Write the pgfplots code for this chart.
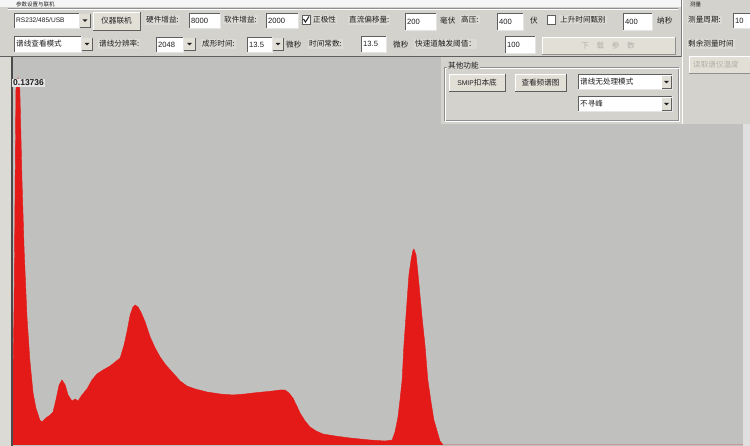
\documentclass[border=0pt]{standalone}
\usepackage{pgfplots}
\pgfplotsset{compat=1.18}
\usepackage{fontspec}
\setmainfont{Noto Sans CJK SC}
\newfontfamily\lib{Liberation Sans}
\definecolor{uibg}{RGB}{212,210,205}
\definecolor{plotbg}{RGB}{192,192,190}
\definecolor{plotred}{RGB}{228,26,24}
\definecolor{dk}{RGB}{95,95,95}
\definecolor{txt}{RGB}{30,30,30}
\definecolor{dis}{RGB}{178,175,168}
\definecolor{lblbg}{RGB}{220,218,213}
\definecolor{btnbg}{RGB}{226,223,215}
\newcommand{\ui}{\fontsize{7.6}{8}\selectfont\color{txt}}
\newcommand{\tb}[5]{%
  \fill[white] (#1,#2) rectangle (#3,#4);
  \draw[dk,line width=0.8pt] (#1,#4) -- (#1,#2) -- (#3,#2);
  \draw[white!90!black,line width=0.8pt] (#1,#4) -- (#3,#4) -- (#3,#2);
  \node[anchor=west,inner sep=0pt,font=\ui] at ({#1+2},{(#2+#4)/2}) {#5};}
\newcommand{\btn}[5]{%
  \fill[btnbg] (#1,#2) rectangle (#3,#4);
  \draw[white,line width=0.8pt] (#1,#4) -- (#1,#2) -- (#3,#2);
  \draw[dk,line width=0.8pt] (#1,#4) -- (#3,#4) -- (#3,#2);
  \node[inner sep=0pt,font=\ui] at ({(#1+#3)/2},{(#2+#4)/2}) {#5};}
\newcommand{\dd}[4]{%
  \fill[btnbg] (#1,#2) rectangle (#3,#4);
  \draw[dk,line width=0.6pt] (#1,#4) -- (#3,#4) -- (#3,#2);
  \fill[txt] ({(#1+#3)/2-2.5},{(#2+#4)/2-1}) -- ++(5,0) -- ++(-2.5,2.5) -- cycle;}
\newcommand{\lbl}[3]{\node[anchor=west,inner sep=1pt,font=\ui,fill=lblbg] at (#1,#2) {#3};}
\begin{document}
\begin{tikzpicture}
\useasboundingbox (0pt,0pt) rectangle (750pt,446pt);
\clip (0pt,0pt) rectangle (750pt,446pt);
\begin{scope}[x=1pt,y=-1pt,shift={(0pt,446pt)}]
  \fill[uibg] (0,0) rectangle (750,446);
  \fill[lblbg] (0,57) rectangle (12,446);
  \fill[plotbg] (12,57) rectangle (743,446);
  \fill[white!88!black] (743,57) rectangle (750,446);
\end{scope}
\begin{axis}[at={(12pt,1pt)}, anchor=south west, scale only axis,
  width=731pt, height=388pt, xmin=0, xmax=2048, ymin=0, ymax=0.14522,
  hide axis, clip=true]
\addplot[fill=plotred, draw=plotred, line width=0.4pt] coordinates {
(0,0.00187) (6,0.05427) (11,0.13288) (17,0.13736) (22,0.13288) (28,0.09919)
(34,0.07299) (42,0.04791) (50,0.03181) (59,0.01946) (67,0.01385) (78,0.00936)
(84,0.00861) (95,0.01011) (107,0.01123) (115,0.01235) (123,0.01684) (132,0.02246)
(140,0.02433) (149,0.02246) (157,0.01872) (168,0.01647) (177,0.01722) (185,0.01647)
(196,0.01872) (210,0.02096) (224,0.02433) (238,0.02657) (255,0.02807) (275,0.02957)
(289,0.03107) (303,0.03256) (314,0.03743) (322,0.04229) (331,0.04866) (339,0.05165)
(345,0.0524) (353,0.05165) (361,0.04978) (373,0.04604) (387,0.04042) (401,0.03631)
(415,0.03294) (431,0.02994) (451,0.02695) (471,0.02396) (490,0.02208) (513,0.02096)
(546,0.01984) (583,0.01909) (619,0.01872) (653,0.01909) (675,0.01946) (703,0.01984)
(731,0.02021) (751,0.02059) (765,0.02059) (776,0.01946) (787,0.01759) (798,0.0146)
(807,0.01198) (821,0.00898) (835,0.00674) (852,0.00524) (871,0.00412) (905,0.00337)
(947,0.00262) (1003,0.00187) (1045,0.0015) (1065,0.00187) (1073,0.00487) (1081,0.01011)
(1087,0.01684) (1093,0.02433) (1098,0.03743) (1107,0.05427) (1112,0.06363) (1118,0.06925)
(1123,0.07261) (1126,0.07336) (1132,0.07112) (1137,0.06475) (1143,0.05615) (1149,0.04754)
(1157,0.03743) (1165,0.02433) (1174,0.0161) (1182,0.00936) (1191,0.00524) (1199,0.0015)
(1208,0) (2048,0)
} \closedcycle;
\end{axis}
\begin{scope}[x=1pt,y=-1pt,shift={(0pt,446pt)}]
  % top panel
  \fill[white!96!black] (0,0) rectangle (681,7);
  \node[anchor=west,inner sep=0pt,font=\fontsize{5.5}{6}\selectfont\color{txt}] at (16,4) {参数设置与联机};
  \draw[dk!70!white,line width=0.6pt] (8,8) -- (678,8);
  \draw[white,line width=0.6pt] (8,9) -- (678,9);
  \draw[dk,line width=1pt] (0,56.5) -- (681,56.5);
  % row 1
  \tb{14}{13}{79}{28}{\lib\fontsize{6.6}{7}\selectfont RS232/485/USB}
  \dd{80}{14}{90}{27}
  \btn{93}{12}{140}{30}{仪器联机}
  \lbl{145}{20}{硬件增益:}
  \tb{189}{13}{220}{28}{\lib 8000}
  \lbl{223}{20}{软件增益:}
  \tb{266}{13}{298}{28}{\lib 2000}
  \fill[white] (302,15) rectangle (310,24); \draw[dk,line width=0.5pt] (302,15) rectangle (310,24);
  \draw[txt,line width=1pt] (303.5,19) -- (305.5,22) -- (309,16.5);
  \lbl{312}{20}{正极性}
  \lbl{348}{20}{直流偏移量:}
  \tb{405}{13}{436}{30}{\lib 200}
  \node[anchor=west,inner sep=0pt,font=\ui] at (440,21) {毫伏};
  \lbl{460}{20}{高压:}
  \tb{497}{13}{523}{30}{\lib 400}
  \node[anchor=west,inner sep=0pt,font=\ui] at (530,21) {伏};
  \fill[white] (547,15) rectangle (555,24); \draw[dk,line width=0.5pt] (547,15) rectangle (555,24);
  \lbl{559}{20}{上升时间甄别}
  \tb{623}{13}{652}{30}{\lib 400}
  \node[anchor=west,inner sep=0pt,font=\ui] at (657,21) {纳秒};
  % row 2
  \tb{14}{36}{81}{52}{谱线查看模式}
  \dd{82}{38}{92}{50}
  \lbl{98}{44}{谱线分辨率:}
  \tb{156}{37}{183}{52}{\lib 2048}
  \dd{184}{38}{195}{50}
  \lbl{201}{44}{成形时间:}
  \tb{247}{37}{272}{52}{\lib 13.5}
  \dd{273}{38}{283}{50}
  \node[anchor=west,inner sep=0pt,font=\ui] at (286,45) {微秒};
  \lbl{308}{44}{时间常数:}
  \tb{361}{36}{386}{52}{\lib 13.5}
  \node[anchor=west,inner sep=0pt,font=\ui] at (393,45) {微秒};
  \lbl{414}{44}{快速道触发阈值：}
  \tb{505}{36}{535}{53}{\lib 100}
  \fill[btnbg] (542,37) rectangle (675,54);
  \draw[white,line width=0.8pt] (542,54) -- (542,37) -- (675,37);
  \draw[dk!70!white,line width=0.8pt] (542,54) -- (675,54) -- (675,37);
  \node[inner sep=0pt,font=\fontsize{7.6}{8}\selectfont\color{dis}] at (608,45.5) {下\quad 载\quad 参\quad 数};
  % right panel
  \fill[uibg] (682,0) rectangle (750,124);
  \draw[dk!80!white,line width=0.8pt] (681,0) -- (681,124);
  \draw[white,line width=0.6pt] (682.5,0) -- (682.5,124);
  \node[anchor=west,inner sep=0pt,font=\fontsize{5.5}{6}\selectfont\color{txt}] at (690,4) {测量};
  \lbl{687}{20}{测量周期:}
  \tb{733}{13}{752}{28}{\lib 10}
  \lbl{687}{44}{剩余测量时间}
  \fill[btnbg] (689,56) rectangle (752,73);
  \draw[white,line width=0.8pt] (689,73) -- (689,56) -- (752,56);
  \draw[dk!70!white,line width=0.8pt] (689,73) -- (752,73);
  \node[anchor=west,inner sep=0pt,font=\fontsize{7.6}{8}\selectfont\color{dis}] at (693,64.5) {读取谱仪温度};
  % other functions panel
  \fill[uibg] (441,57) rectangle (682,124);
  \draw[dk!70!white,line width=0.6pt] (444,67) rectangle (678,120);
  \draw[white,line width=0.6pt] (445,68) rectangle (679,121);
  \node[anchor=west,inner sep=1pt,fill=uibg,font=\ui] at (447,66) {其他功能};
  \btn{449}{74}{505}{91}{\lib\fontsize{6.8}{7}\selectfont SMIP\normalfont\ui 扣本底}
  \btn{515}{74}{566}{91}{查看频谱图}
  \tb{578}{74}{672}{89}{谱线无处理模式}
  \dd{662}{76}{671}{88}
  \tb{578}{96}{672}{111}{不寻峰}
  \dd{662}{98}{671}{110}
  % plot left edge and max label
  \draw[dk!80!black,line width=1.3pt] (12,57) -- (12,446);
  \node[anchor=west,inner sep=1pt,fill=white!90!black,font=\lib\bfseries\fontsize{8.5}{9}\selectfont\color{txt}] at (12,83) {0.13736};
\end{scope}
\end{tikzpicture}
\end{document}
